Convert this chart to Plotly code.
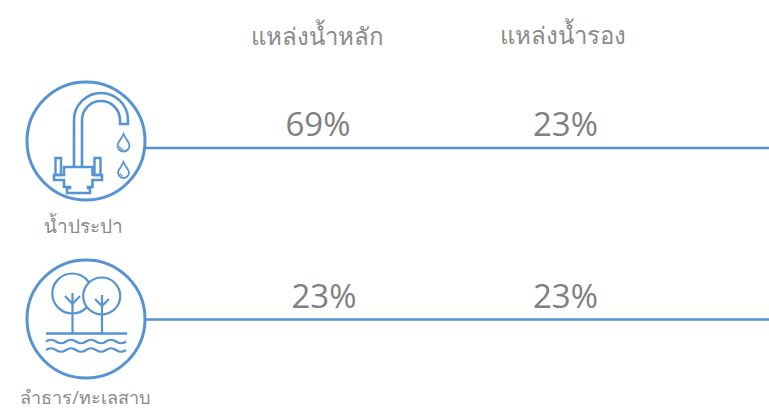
import plotly.graph_objects as go

# --- data ---
source_types = ["แหล่งน้ำหลัก", "แหล่งน้ำรอง"]
categories = ["น้ำประปา", "ลำธาร/ทะเลสาบ"]
primary_pct = [69, 23]
secondary_pct = [23, 23]

# --- layout constants (pixel space of a 769x408 canvas) ---
BLUE = "#5593D2"
GREY = "#808080"
THAI_GREY = "#8A8A8A"
FONT = "Open Sans, Noto Sans, sans-serif"
HEAD_X, HEAD_Y = [317, 563], [39, 38]
PRIMARY_X, SECONDARY_X = [318, 565.5], [324, 565.5]
VALUE_Y = [128, 300]
LABEL_X, LABEL_Y = [83, 85], [228, 399]
LABEL_SIZE = [19, 18]
CIRCLE_CX = 86
CIRCLE_CY = [141, 319]
CIRCLE_R = 59
RULE_Y = [148, 319.5]
K = 0.5523


def path(d, width=2.6, fill="rgba(0,0,0,0)"):
    return dict(type="path", path=d, xref="x", yref="y", layer="above",
                line=dict(color=BLUE, width=width), fillcolor=fill)


def circle(cx, cy, r, width=2.6, fill="rgba(0,0,0,0)"):
    return dict(type="circle", xref="x", yref="y", x0=cx - r, x1=cx + r, y0=cy - r, y1=cy + r,
                layer="above", line=dict(color=BLUE, width=width), fillcolor=fill)


def drop(cx, top, bottom):
    r = (bottom - top) * 0.34
    cy = bottom - r
    k = K * r
    ir = r - 2
    ik = K * ir
    return [
        path(f"M{cx},{top} C{cx+1.5},{top+4} {cx+r},{cy-3} {cx+r},{cy} "
             f"C{cx+r},{cy+k} {cx+k},{cy+r} {cx},{cy+r} "
             f"C{cx-k},{cy+r} {cx-r},{cy+k} {cx-r},{cy} "
             f"C{cx-r},{cy-3} {cx-1.5},{top+4} {cx},{top} Z", 1.8),
        path(f"M{cx-ir},{cy+0.5} C{cx-ir},{cy+ik} {cx-ik},{cy+ir} {cx},{cy+ir}", 1.1),
    ]


def arch(cx, cy, r):
    k = K * r
    return (f"C{cx-r},{cy-k} {cx-k},{cy-r} {cx},{cy-r} "
            f"C{cx+k},{cy-r} {cx+r},{cy-k} {cx+r},{cy}")


def arch_back(cx, cy, r):
    k = K * r
    return (f"C{cx+r},{cy-k} {cx+k},{cy-r} {cx},{cy-r} "
            f"C{cx-k},{cy-r} {cx-r},{cy-k} {cx-r},{cy}")


shapes = []
for cy, y in zip(CIRCLE_CY, RULE_Y):
    shapes.append(circle(CIRCLE_CX, cy, CIRCLE_R, 3))
    shapes.append(dict(type="line", xref="x", yref="y", x0=CIRCLE_CX + CIRCLE_R, x1=769, y0=y, y1=y,
                       line=dict(color=BLUE, width=2.7)))

# faucet icon
shapes += [
    path(f"M74,167 L74,120 {arch(101, 120, 27)} L128,124 L120,124 L120,120 {arch_back(101, 120, 19)} L82,167", 2.6),
    path("M55.5,158 L61,158 L61,175 L55.5,175 Z", 2.4),
    path("M94.5,158 L100.5,158 L100.5,175 L94.5,175 Z", 2.4),
    path("M54,175 L64,175 L64,167 L92.5,167 L92.5,175 L102,175 L102,180 L92.5,180 L92.5,187 L88,187 L88,188 "
         "L90,188 L90,193 L67,193 L67,188 L70,188 L70,187 L64,187 L64,180 L54,180 Z", 2.6),
]
shapes += drop(123.5, 134, 151.5)
shapes += drop(123.5, 162, 178)

# tree / water icon
shapes += [
    circle(72.3, 293.5, 20, 2.2),
    circle(101.7, 296, 18.5, 2.2, "#ffffff"),
    path("M72.5,293 L72.5,333", 2.2),
    path("M65,296 L72.5,304 L80,296", 2.2),
    path("M102,295 L102,333", 2.2),
    path("M95,299 L102,306 L109,299", 2.2),
    path("M46,333.5 L127,333.5", 2.4),
]
for y in (341.5, 350):
    d = f"M46,{y} Q51,{y-3.5} 56,{y}"
    for x in range(66, 127, 10):
        d += f" T{x},{y}"
    shapes.append(path(d, 2.2))

fig = go.Figure()
fig.add_trace(go.Scatter(x=HEAD_X, y=HEAD_Y, mode="text", text=source_types,
                         textfont=dict(family=FONT, size=24, color=THAI_GREY), hoverinfo="skip"))
fig.add_trace(go.Scatter(x=[PRIMARY_X[0], SECONDARY_X[0]], y=VALUE_Y, mode="text",
                         text=[f"{v}%" for v in primary_pct],
                         textfont=dict(family=FONT, size=33, color=GREY), hoverinfo="skip"))
fig.add_trace(go.Scatter(x=[PRIMARY_X[1], SECONDARY_X[1]], y=VALUE_Y, mode="text",
                         text=[f"{v}%" for v in secondary_pct],
                         textfont=dict(family=FONT, size=33, color=GREY), hoverinfo="skip"))
fig.add_trace(go.Scatter(x=LABEL_X, y=LABEL_Y, mode="text", text=categories,
                         textfont=dict(family=FONT, size=LABEL_SIZE, color=THAI_GREY), hoverinfo="skip"))

fig.update_layout(
    width=769, height=408, margin=dict(l=0, r=0, t=0, b=0),
    paper_bgcolor="white", plot_bgcolor="white", showlegend=False, shapes=shapes,
    xaxis=dict(range=[0, 769], visible=False, fixedrange=True),
    yaxis=dict(range=[408, 0], visible=False, fixedrange=True),
)
fig.write_html("out.html", config=dict(displayModeBar=False, responsive=False),
               post_script="document.body.style.margin='0';document.documentElement.style.overflow='hidden';")
